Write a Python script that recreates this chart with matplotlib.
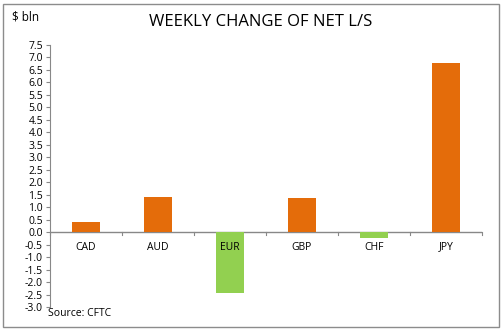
import matplotlib.pyplot as plt
from matplotlib.patches import Rectangle
import numpy as np

currencies = ['CAD', 'AUD', 'EUR', 'GBP', 'CHF', 'JPY']
changes = [0.40, 1.42, -2.42, 1.38, -0.24, 6.77]

orange = '#E46C0A'
green = '#92D050'
colors = [orange if v >= 0 else green for v in changes]

plt.rcParams['font.family'] = ['Open Sans', 'DejaVu Sans']

fig = plt.figure(figsize=(5.04, 3.31), dpi=100)
ax = fig.add_axes([50 / 504, 24 / 331, 432 / 504, 262 / 331])

x = np.arange(len(currencies))
ax.bar(x, changes, width=0.4, color=colors, zorder=3)

ax.set_xlim(-0.5, len(currencies) - 0.5)
ax.set_ylim(-3.0, 7.5)
ax.set_yticks(np.arange(-3.0, 7.51, 0.5))
ax.set_yticklabels([f'{v:.1f}' for v in np.arange(-3.0, 7.51, 0.5)], fontsize=7.5)
ax.tick_params(axis='y', length=3, color='#888888', pad=2)

for s in ['top', 'right', 'bottom']:
    ax.spines[s].set_visible(False)
ax.spines['left'].set_color('#888888')

# category axis along zero
ax.axhline(0, color='#888888', lw=1, zorder=2)
ax.set_xticks([])
for b in np.arange(-0.5, len(currencies), 1.0):
    ax.plot([b, b], [0, -0.12], color='#888888', lw=0.8, clip_on=False)
for xi, name in zip(x, currencies):
    ax.text(xi, -0.38, name, ha='center', va='top', fontsize=7.5)

fig.text(261 / 504, 1 - 22 / 331, 'WEEKLY CHANGE OF NET L/S',
         ha='center', va='center', fontsize=12)
fig.text(12 / 504, 1 - 17 / 331, '$ bln', ha='left', va='center', fontsize=8.5)
fig.text(48 / 504, 1 - 313 / 331, 'Source: CFTC', ha='left', va='center', fontsize=7.5)

fig.patches.append(Rectangle((3 / 504, 4 / 331), 496 / 504, 323 / 331,
                             transform=fig.transFigure, fill=False,
                             edgecolor='#8c8c8c', lw=1))

fig.savefig('out.png', dpi=100)
